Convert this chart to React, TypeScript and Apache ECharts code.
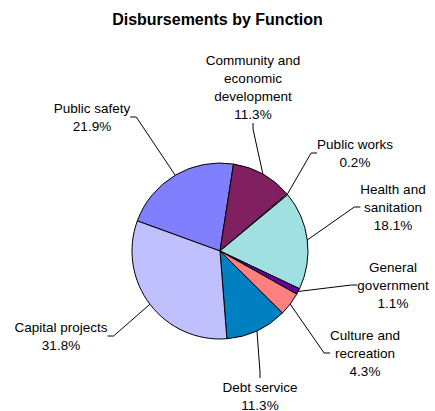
import React, { useEffect, useRef } from "react";
import * as echarts from "echarts";

const categories = [
  "Public safety",
  "Community and economic development",
  "Public works",
  "Health and sanitation",
  "General government",
  "Culture and recreation",
  "Debt service",
  "Capital projects",
];
const values = [21.9, 11.3, 0.2, 18.1, 1.1, 4.3, 11.3, 31.8];
const labelLines = [
  ["Public safety"],
  ["Community and", "economic", "development"],
  ["Public works"],
  ["Health and", "sanitation"],
  ["General", "government"],
  ["Culture and", "recreation"],
  ["Debt service"],
  ["Capital projects"],
];
const colors = ["#8080FF", "#802060", "#FFFFC0", "#A0E0E0", "#660099", "#FF8080", "#0080C0", "#C0C0FF"];
// label centres (layout only)
const labelPos = [
  [92, 117],
  [253, 87],
  [355, 153],
  [393, 207],
  [393, 285],
  [365, 353],
  [260, 396],
  [61, 336],
];

export default function App() {
  const ref = useRef<HTMLDivElement>(null);
  useEffect(() => {
    document.body.style.margin = "0";
    const chart = echarts.init(ref.current!, null, { renderer: "svg" });
    chart.setOption({
      animation: false,
      backgroundColor: "#ffffff",
      title: {
        text: "Disbursements by Function",
        left: "center",
        top: 6,
        textStyle: { fontFamily: "Liberation Sans", fontSize: 16, fontWeight: "bold", color: "#000" },
      },
      series: [
        {
          type: "pie",
          center: [220, 251],
          radius: 88,
          startAngle: 160,
          clockwise: true,
          color: colors,
          itemStyle: { borderColor: "#000", borderWidth: 1 },
          label: {
            show: true,
            position: "outside",
            fontFamily: "Liberation Sans",
            fontSize: 13.5,
            lineHeight: 18,
            color: "#000",
            align: "center",
            formatter: (p: any) => labelLines[p.dataIndex].join("\n") + "\n" + values[p.dataIndex].toFixed(1) + "%",
          },
          labelLine: { show: true, length: 10, length2: 6, lineStyle: { color: "#000", width: 1 } },
          labelLayout: (p: any) => ({
            x: labelPos[p.dataIndex][0],
            y: labelPos[p.dataIndex][1],
            align: "center",
            verticalAlign: "middle",
          }),
          data: categories.map((c, i) => ({ name: c, value: values[i] })),
        },
      ],
    });
    return () => chart.dispose();
  }, []);
  return <div ref={ref} style={{ width: 435, height: 411 }} />;
}
